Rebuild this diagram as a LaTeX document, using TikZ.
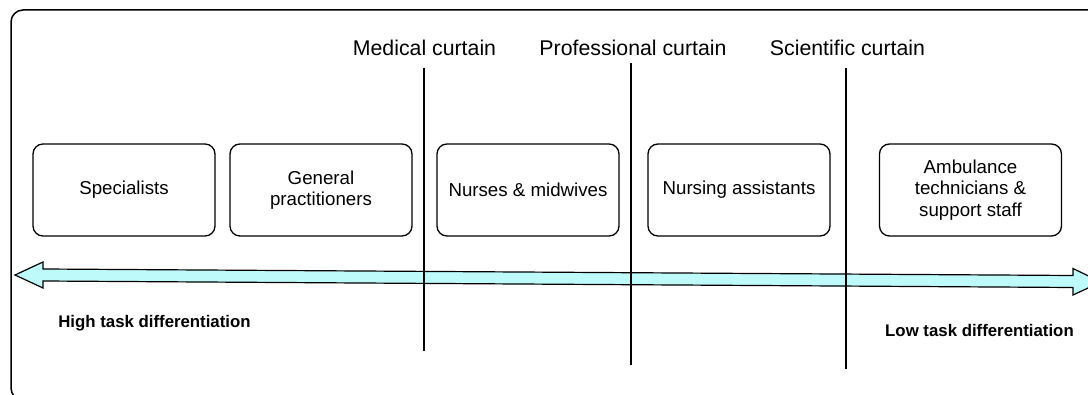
\documentclass[tikz,border=0pt]{standalone}
\usepackage{fontspec}
\setmainfont{Liberation Sans}
\usetikzlibrary{positioning}

\tikzset{
	role/.style={draw, line width=1.3pt, rounded corners=10pt, minimum width=182pt, minimum height=92pt, align=center, font=\fontsize{18.7}{21.5}\selectfont},
	curtainlabel/.style={font=\fontsize{21.3}{25}\selectfont},
	curtainline/.style={draw, line width=1.2pt},
	endlabel/.style={font=\fontsize{16.8}{20}\selectfont\bfseries}
}

\begin{document}
\begin{tikzpicture}[x=1pt,y=-1pt]
		\useasboundingbox (0,0) rectangle (1088,395);
		\begin{scope}
			\clip (0,0) rectangle (1088,395);
			\draw[line width=1.5pt, rounded corners=12pt] (1100,10) -- (11,10) -- (11,400) -- (40,400);

			% the scale from high to low differentiation
			\draw[line width=1.2pt, fill={rgb,255:red,190;green,250;blue,250}]
				(15,275) -- (43,262) -- (43,269) -- (1073,275.5) -- (1073,268.5)
				-- (1101,282) -- (1073,295) -- (1073,287.5) -- (43,281) -- (43,288) -- cycle;
		\end{scope}

		% roles
		\node[role] (spec) at (124,190) {Specialists};
		\node[role] (gp) at (321,190) {General\\practitioners};
		\node[role] (nurse) at (528,190) {Nurses \& midwives};
		\node[role] (assist) at (739,190) {Nursing assistants};
		\node[role] (amb) at (970.5,190) {Ambulance\\technicians \&\\support staff};

		% curtains
		\node[curtainlabel] (med) at (424.5,48) {Medical curtain};
		\node[curtainlabel] (prof) at (633,48) {Professional curtain};
		\node[curtainlabel] (sci) at (847.5,48) {Scientific curtain};
		\coordinate (medtop) at (424,68);
		\coordinate (medbot) at (424,351);
		\coordinate (proftop) at (631,63);
		\coordinate (profbot) at (631,365);
		\coordinate (scitop) at (846,68);
		\coordinate (scibot) at (846,369);
		\draw[curtainline] (medtop) -- (medbot);
		\draw[curtainline] (proftop) -- (profbot);
		\draw[curtainline] (scitop) -- (scibot);

		\node[endlabel] (high) at (154.5,323) {High task differentiation};
		\node[endlabel] (low) at (979.5,330) {Low task differentiation};
\end{tikzpicture}
\end{document}
